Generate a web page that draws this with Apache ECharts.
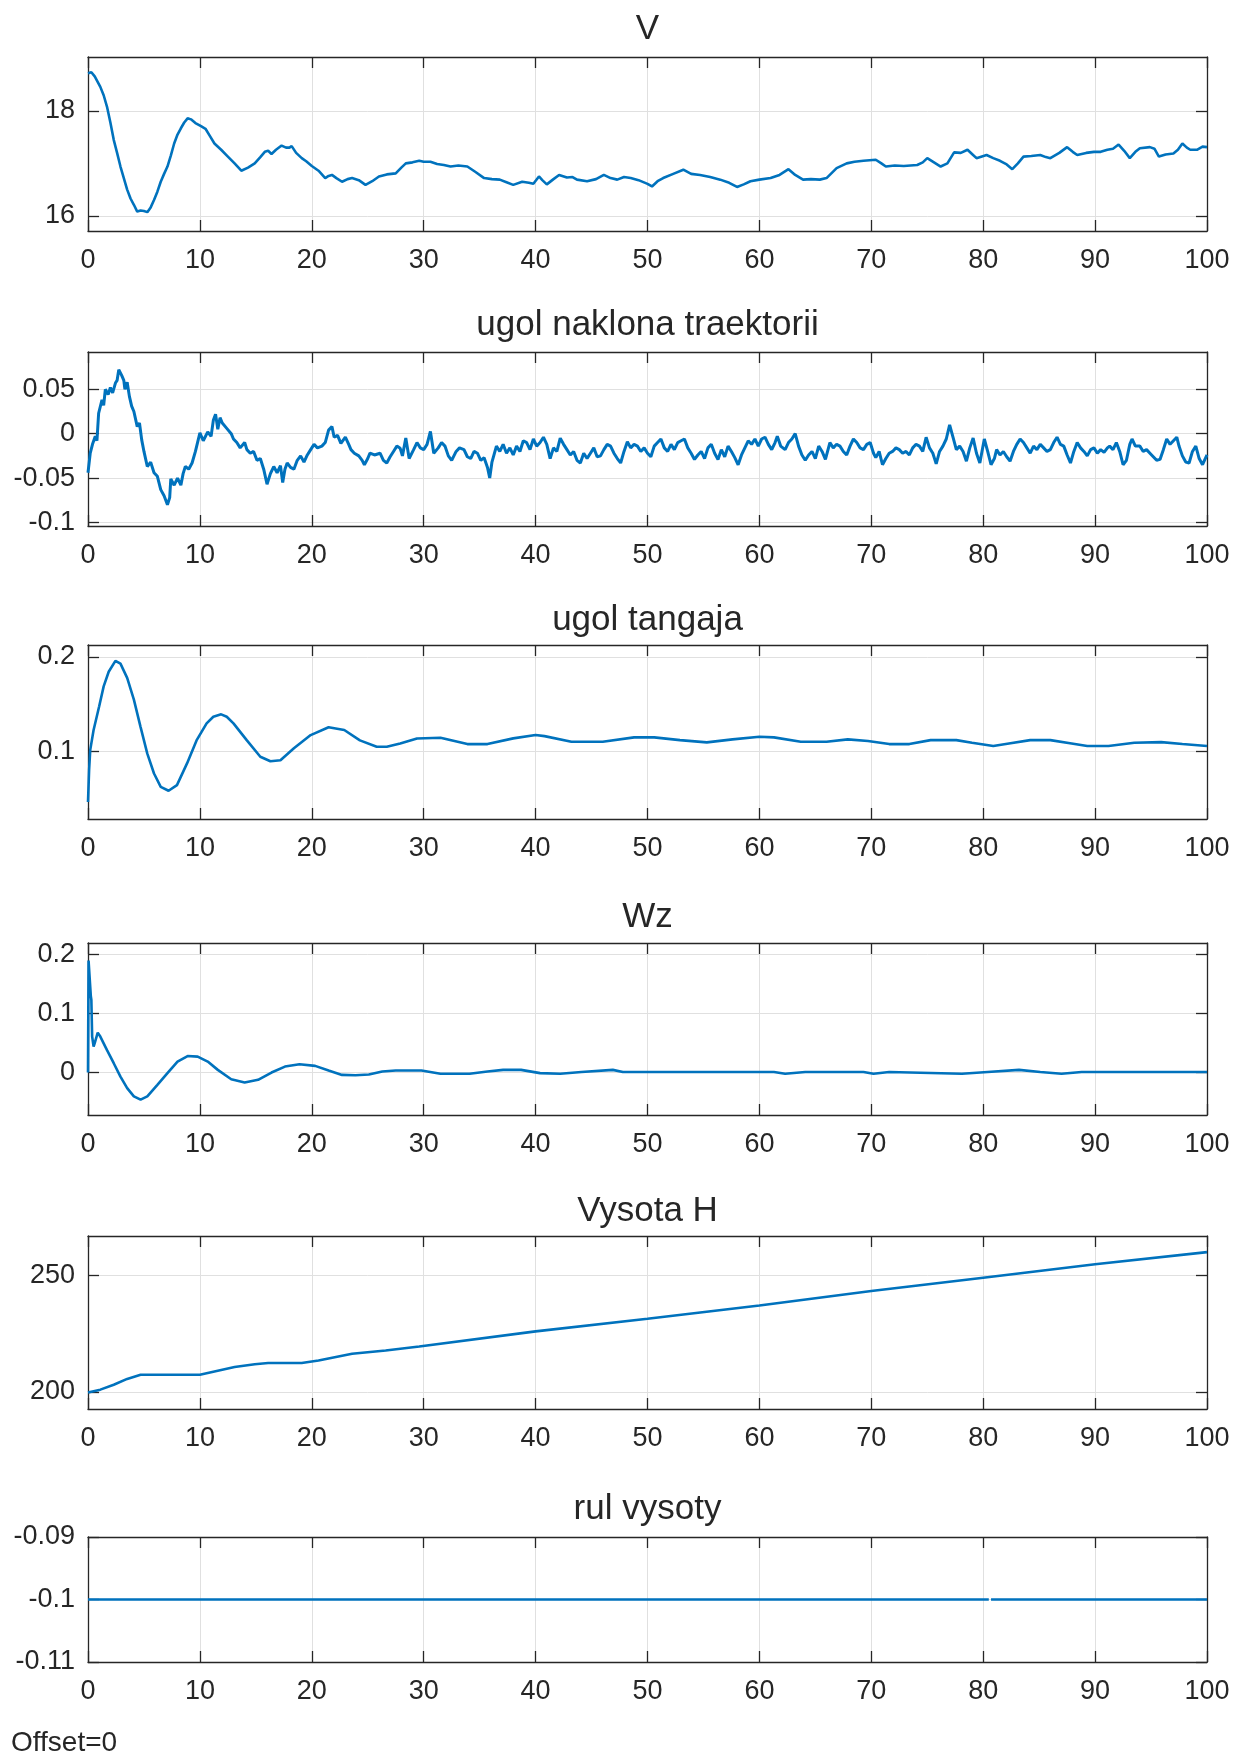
<!DOCTYPE html>
<html>
<head>
<meta charset="utf-8">
<title>Scope</title>
<script src="https://cdn.jsdelivr.net/npm/echarts@6/dist/echarts.min.js"></script>
<style>
  html, body { margin: 0; padding: 0; background: #fff; }
  #chart { width: 1238px; height: 1758px; }
</style>
</head>
<body>
<div id="chart"></div>
<script>
// ---- data: [time, value] ----
const vData = [
  [0,18.72],[0.3,18.74],[0.6,18.66],[1.1,18.46],[1.4,18.3],[1.7,18.08],[2.0,17.78],[2.3,17.45],[2.6,17.2],[2.9,16.94],
  [3.2,16.72],[3.5,16.5],[3.8,16.33],[4.1,16.21],[4.4,16.08],[4.7,16.1],[5.0,16.09],[5.3,16.07],[5.6,16.16],[5.9,16.3],
  [6.2,16.46],[6.5,16.65],[6.8,16.8],[7.1,16.94],[7.4,17.15],[7.7,17.38],[8.0,17.55],[8.3,17.67],[8.6,17.78],[8.9,17.86],
  [9.2,17.84],[9.6,17.77],[10.1,17.71],[10.5,17.66],[10.9,17.52],[11.3,17.38],[11.9,17.26],[12.5,17.13],[13.1,17.0],[13.7,16.86],
  [14.3,16.92],[14.9,17.0],[15.4,17.12],[15.8,17.22],[16.1,17.24],[16.4,17.18],[16.8,17.26],[17.3,17.34],[17.7,17.3],[18.0,17.3],
  [18.2,17.33],[18.6,17.2],[19.1,17.1],[19.5,17.04],[20.0,16.95],[20.6,16.86],[21.2,16.72],[21.5,16.76],[21.8,16.78],[22.2,16.72],
  [22.7,16.65],[23.2,16.7],[23.6,16.72],[24.2,16.68],[24.8,16.59],[25.4,16.66],[26.0,16.75],[26.7,16.79],[27.5,16.81],[28.0,16.92],
  [28.4,17.0],[29.0,17.02],[29.6,17.05],[30.0,17.03],[30.6,17.03],[31.2,16.99],[31.8,16.97],[32.4,16.94],[33.1,16.96],[33.9,16.94],
  [34.6,16.84],[35.4,16.72],[36.1,16.7],[36.8,16.69],[37.4,16.64],[38.0,16.59],[38.8,16.65],[39.4,16.63],[39.8,16.61],[40.3,16.75],
  [40.6,16.68],[41.0,16.6],[41.6,16.7],[42.1,16.78],[42.8,16.73],[43.3,16.74],[43.7,16.69],[44.6,16.66],[45.4,16.7],[46.1,16.78],
  [46.7,16.72],[47.3,16.69],[47.9,16.74],[48.5,16.72],[49.2,16.68],[50.0,16.61],[50.4,16.56],[50.9,16.66],[51.4,16.72],[52.3,16.8],
  [53.2,16.88],[53.9,16.8],[54.7,16.78],[55.6,16.74],[56.5,16.69],[57.3,16.63],[58.0,16.55],[58.6,16.6],[59.2,16.66],[60.0,16.69],
  [61.0,16.72],[61.8,16.78],[62.6,16.89],[63.2,16.78],[63.9,16.69],[64.6,16.7],[65.4,16.69],[66.0,16.72],[66.9,16.91],[67.8,17.0],
  [68.5,17.03],[69.3,17.05],[70.4,17.07],[70.9,17.0],[71.3,16.94],[72.1,16.96],[72.9,16.95],[74.1,16.97],[74.6,17.02],[75.0,17.1],
  [75.6,17.02],[76.2,16.94],[76.8,17.0],[77.4,17.21],[78.0,17.2],[78.6,17.26],[79.0,17.18],[79.4,17.1],[80.3,17.16],[80.9,17.1],
  [81.5,17.05],[82.1,16.98],[82.6,16.89],[83.1,17.0],[83.6,17.13],[84.3,17.14],[85.1,17.16],[85.6,17.12],[86.0,17.1],[86.8,17.2],
  [87.5,17.31],[88.0,17.22],[88.4,17.16],[89.2,17.2],[89.9,17.22],[90.5,17.22],[91.1,17.26],[91.6,17.28],[92.1,17.36],[92.6,17.24],
  [93.1,17.1],[93.6,17.22],[94.0,17.29],[94.9,17.31],[95.3,17.28],[95.7,17.13],[96.3,17.17],[97.0,17.19],[97.4,17.26],[97.8,17.38],
  [98.2,17.3],[98.5,17.26],[99.1,17.26],[99.6,17.32],[100,17.31]
];

const gammaData = [
  [0,-0.044],[0.2,-0.022],[0.4,-0.012],[0.65,-0.003],[0.8,-0.008],[0.95,0.023],[1.25,0.038],[1.4,0.032],[1.55,0.05],[1.8,0.044],
  [2.0,0.052],[2.2,0.046],[2.45,0.057],[2.6,0.06],[2.75,0.072],[2.9,0.074],[3.0,0.066],[3.2,0.06],[3.3,0.05],[3.5,0.058],
  [3.7,0.042],[3.9,0.031],[4.1,0.025],[4.4,0.008],[4.6,0.012],[4.8,-0.007],[5.0,-0.02],[5.3,-0.037],[5.6,-0.032],[5.9,-0.044],
  [6.2,-0.048],[6.5,-0.063],[6.8,-0.07],[7.1,-0.08],[7.3,-0.072],[7.4,-0.051],[7.7,-0.058],[8.0,-0.05],[8.3,-0.058],[8.5,-0.045],
  [8.7,-0.037],[9.0,-0.04],[9.3,-0.033],[9.6,-0.02],[10.0,0.001],[10.3,-0.008],[10.7,0.002],[11.0,-0.003],[11.2,0.015],[11.4,0.022],
  [11.6,0.005],[11.8,0.018],[12.0,0.012],[12.4,0.006],[12.8,0.0],[13.0,-0.006],[13.3,-0.01],[13.6,-0.016],[14.0,-0.01],[14.2,-0.018],
  [14.5,-0.022],[14.8,-0.02],[15.1,-0.03],[15.4,-0.028],[15.7,-0.04],[16.0,-0.057],[16.3,-0.045],[16.6,-0.037],[16.9,-0.044],[17.2,-0.036],
  [17.4,-0.055],[17.6,-0.04],[17.8,-0.033],[18.1,-0.038],[18.4,-0.04],[18.7,-0.03],[19.0,-0.025],[19.3,-0.032],[19.6,-0.024],[19.9,-0.018],
  [20.2,-0.012],[20.5,-0.016],[20.9,-0.014],[21.2,-0.01],[21.5,0.004],[21.8,0.008],[22.0,-0.004],[22.3,-0.002],[22.6,-0.011],[23.0,-0.004],
  [23.3,-0.012],[23.5,-0.018],[23.8,-0.022],[24.2,-0.025],[24.5,-0.03],[24.7,-0.035],[25.0,-0.028],[25.2,-0.022],[25.6,-0.024],[26.1,-0.022],
  [26.4,-0.03],[26.7,-0.033],[27.0,-0.026],[27.3,-0.02],[27.6,-0.014],[27.9,-0.0165],[28.1,-0.025],[28.4,-0.005],[28.7,-0.028],[29.1,-0.018],
  [29.4,-0.01],[29.7,-0.016],[30.0,-0.018],[30.3,-0.012],[30.6,0.0025],[30.9,-0.022],[31.3,-0.016],[31.6,-0.01],[31.9,-0.014],[32.2,-0.025],
  [32.5,-0.03],[32.9,-0.02],[33.2,-0.016],[33.6,-0.018],[33.9,-0.026],[34.2,-0.028],[34.5,-0.02],[34.8,-0.022],[35.1,-0.03],[35.4,-0.027],
  [35.7,-0.038],[35.9,-0.05],[36.1,-0.032],[36.5,-0.014],[36.8,-0.02],[37.1,-0.012],[37.4,-0.022],[37.7,-0.016],[38.0,-0.024],[38.3,-0.014],
  [38.6,-0.02],[38.9,-0.008],[39.2,-0.01],[39.5,-0.018],[39.8,-0.006],[40.1,-0.014],[40.4,-0.01],[40.7,-0.004],[41.0,-0.012],[41.3,-0.028],
  [41.6,-0.016],[41.9,-0.02],[42.2,-0.005],[42.5,-0.012],[42.8,-0.018],[43.1,-0.024],[43.4,-0.02],[43.7,-0.03],[44.0,-0.033],[44.3,-0.022],
  [44.6,-0.028],[44.9,-0.022],[45.2,-0.016],[45.5,-0.026],[45.8,-0.025],[46.1,-0.018],[46.4,-0.012],[46.7,-0.014],[47.0,-0.022],[47.3,-0.028],
  [47.6,-0.033],[47.9,-0.02],[48.2,-0.009],[48.5,-0.016],[48.8,-0.012],[49.1,-0.014],[49.4,-0.02],[49.7,-0.016],[50.0,-0.022],[50.3,-0.026],
  [50.6,-0.014],[50.9,-0.01],[51.2,-0.006],[51.5,-0.016],[51.8,-0.02],[52.1,-0.012],[52.4,-0.018],[52.7,-0.01],[53.0,-0.008],[53.3,-0.006],
  [53.6,-0.016],[53.9,-0.022],[54.2,-0.029],[54.5,-0.024],[54.8,-0.02],[55.1,-0.028],[55.4,-0.016],[55.7,-0.012],[56.0,-0.022],[56.3,-0.029],
  [56.6,-0.018],[56.9,-0.026],[57.2,-0.014],[57.5,-0.02],[57.8,-0.027],[58.1,-0.035],[58.4,-0.024],[58.7,-0.016],[59.0,-0.008],[59.3,-0.012],
  [59.6,-0.006],[59.9,-0.014],[60.2,-0.006],[60.5,-0.004],[60.8,-0.012],[61.1,-0.018],[61.4,-0.01],[61.6,-0.003],[61.9,-0.014],[62.3,-0.018],
  [62.6,-0.01],[62.9,-0.006],[63.2,0.0],[63.5,-0.014],[63.8,-0.024],[64.1,-0.03],[64.4,-0.024],[64.7,-0.02],[65.0,-0.028],[65.3,-0.014],
  [65.6,-0.02],[65.9,-0.029],[66.3,-0.01],[66.6,-0.016],[66.9,-0.012],[67.2,-0.014],[67.5,-0.02],[67.8,-0.024],[68.1,-0.014],[68.4,-0.006],
  [68.7,-0.01],[69.0,-0.016],[69.3,-0.018],[69.6,-0.012],[69.9,-0.01],[70.2,-0.022],[70.4,-0.027],[70.7,-0.02],[71.0,-0.035],[71.3,-0.028],
  [71.6,-0.022],[71.9,-0.02],[72.2,-0.016],[72.5,-0.018],[72.8,-0.022],[73.1,-0.02],[73.4,-0.024],[73.7,-0.016],[74.0,-0.012],[74.3,-0.014],
  [74.6,-0.02],[74.9,-0.004],[75.2,-0.016],[75.5,-0.022],[75.8,-0.034],[76.1,-0.02],[76.4,-0.014],[76.7,-0.006],[77.0,0.01],[77.3,-0.004],
  [77.6,-0.018],[77.9,-0.014],[78.2,-0.02],[78.5,-0.031],[78.8,-0.016],[79.1,-0.005],[79.4,-0.022],[79.7,-0.033],[80.1,-0.006],[80.4,-0.02],
  [80.7,-0.035],[81.0,-0.028],[81.2,-0.018],[81.5,-0.024],[81.8,-0.02],[82.1,-0.026],[82.4,-0.031],[82.7,-0.02],[83.0,-0.012],[83.3,-0.006],
  [83.6,-0.01],[83.9,-0.016],[84.2,-0.022],[84.5,-0.014],[84.8,-0.018],[85.1,-0.012],[85.4,-0.016],[85.7,-0.02],[86.0,-0.018],[86.3,-0.01],
  [86.6,-0.004],[86.9,-0.012],[87.2,-0.014],[87.5,-0.024],[87.8,-0.033],[88.1,-0.02],[88.4,-0.01],[88.7,-0.016],[89.0,-0.02],[89.3,-0.025],
  [89.6,-0.018],[89.9,-0.016],[90.2,-0.022],[90.5,-0.018],[90.8,-0.021],[91.1,-0.016],[91.3,-0.014],[91.6,-0.018],[91.9,-0.01],[92.2,-0.02],
  [92.5,-0.035],[92.8,-0.03],[93.1,-0.012],[93.3,-0.006],[93.6,-0.014],[94.0,-0.014],[94.3,-0.02],[94.6,-0.018],[94.9,-0.022],[95.2,-0.026],
  [95.5,-0.03],[95.8,-0.029],[96.1,-0.018],[96.4,-0.006],[96.7,-0.012],[97.0,-0.008],[97.3,-0.004],[97.5,-0.014],[97.8,-0.025],[98.1,-0.032],
  [98.4,-0.033],[98.7,-0.02],[99.0,-0.014],[99.3,-0.028],[99.6,-0.035],[100,-0.024]
];

const thetaData = [
  [0,0.047],[0.1,0.081],[0.2,0.102],[0.5,0.123],[1.0,0.148],[1.4,0.169],[1.85,0.1845],[2.45,0.196],[2.9,0.193],[3.5,0.178],
  [4.1,0.155],[4.7,0.126],[5.3,0.098],[5.9,0.077],[6.5,0.063],[7.2,0.0588],[7.95,0.0648],[8.85,0.0877],[9.7,0.112],[10.6,0.13],
  [11.2,0.137],[11.9,0.1395],[12.4,0.137],[13.0,0.13],[14.2,0.112],[15.4,0.0947],[16.3,0.09],[17.2,0.091],[18.4,0.1036],[19.9,0.1176],
  [21.5,0.1258],[22.9,0.123],[24.3,0.112],[25.8,0.1053],[26.7,0.1053],[27.9,0.1088],[29.4,0.114],[31.5,0.1148],[33.9,0.1081],[35.7,0.1081],
  [38.0,0.1141],[40.0,0.1176],[40.8,0.1165],[43.2,0.1106],[46.0,0.1106],[48.8,0.1152],[50.6,0.1152],[52.9,0.1123],[55.3,0.1099],[57.6,0.1131],
  [60.0,0.1158],[61.3,0.1152],[63.7,0.1106],[66.0,0.1106],[67.9,0.1131],[69.7,0.1113],[71.6,0.1081],[73.4,0.1081],[75.3,0.1123],[77.6,0.1123],
  [79.0,0.1095],[80.9,0.106],[82.3,0.1088],[84.2,0.1123],[86.0,0.1123],[87.9,0.1088],[89.3,0.106],[91.2,0.106],[93.5,0.1095],[95.9,0.1102],
  [97.8,0.1081],[100,0.106]
];

const wzData = [
  [0,0],[0.05,0.19],[0.15,0.19],[0.25,0.13],[0.3,0.123],[0.37,0.061],[0.5,0.044],[0.6,0.05],[0.7,0.051],[0.87,0.0676],
  [1.1,0.061],[1.7,0.038],[2.3,0.0158],[2.9,-0.0068],[3.5,-0.0265],[4.1,-0.0405],[4.7,-0.046],[5.3,-0.0405],[6.2,-0.0208],[7.1,-0.001],
  [8.0,0.0186],[8.9,0.028],[9.8,0.027],[10.7,0.0186],[11.6,0.0045],[12.8,-0.0113],[14.0,-0.0169],[15.2,-0.0124],[16.4,0],[17.6,0.0101],
  [18.9,0.014],[20.3,0.0113],[21.5,0.0034],[22.7,-0.004],[23.9,-0.0045],[25.1,-0.0034],[26.3,0.0017],[27.5,0.0034],[29.8,0.0034],[31.5,-0.002],
  [34.1,-0.002],[35.7,0.0017],[37.1,0.0045],[38.7,0.0045],[40.4,-0.001],[42.2,-0.002],[44.1,0.001],[46.9,0.0045],[47.8,0.001],[61.3,0.001],
  [62.3,-0.002],[64.1,0.001],[69.3,0.001],[70.2,-0.002],[71.6,0.001],[78.1,-0.002],[80.4,0.001],[83.2,0.0045],[85.1,0.001],[87.0,-0.002],
  [88.8,0.001],[100,0.001]
];

const heightData = [
  [0,199.8],[1.1,201],[2.3,203.1],[3.5,205.6],[4.7,207.4],[7.1,207.4],[10,207.4],[11.3,208.8],[13.1,210.7],[14.9,211.9],
  [16.1,212.4],[19.1,212.4],[20.6,213.5],[23.6,216.4],[26.6,217.8],[29.6,219.5],[40,226],[50,231.4],[60,237.1],[70,243.3],
  [80,249],[90,254.8],[100,260]
];

// elevator: constant, with a one-sample gap near t = 80.6
const elevatorData = [[0,-0.1],[80.5,-0.1],[80.6,'-'],[80.7,-0.1],[100,-0.1]];

const titles = ['V', 'ugol naklona traektorii', 'ugol tangaja', 'Wz', 'Vysota H', 'rul vysoty'];
const yTickValues = [[16, 18], [-0.1, -0.05, 0, 0.05], [0.1, 0.2], [0, 0.1, 0.2], [200, 250], [-0.11, -0.1, -0.09]];
const yLimits = [[15.71, 19.03], [-0.104, 0.092], [0.029, 0.2127], [-0.072, 0.2196], [192.7, 266.9], [-0.11, -0.09]];
const seriesData = [vData, gammaData, thetaData, wzData, heightData, elevatorData];

// panel boxes in px
const panels = [
  { top: 57, height: 174, titleY: 29 },
  { top: 352, height: 174, titleY: 325 },
  { top: 645, height: 174, titleY: 620 },
  { top: 943, height: 172, titleY: 917 },
  { top: 1236, height: 173, titleY: 1211 },
  { top: 1537, height: 125, titleY: 1509 }
];

const FONT = '"Liberation Sans", Arial, Helvetica, sans-serif';
const INK = '#262626';
const GRID = '#e0e0e0';
const LINE = '#0072BD';

const chart = echarts.init(document.getElementById('chart'), null, { renderer: 'canvas' });

const fmt = v => String(Math.round(v * 1000) / 1000);

const grid = [], xAxis = [], yAxis = [], series = [], graphic = [];

panels.forEach((p, i) => {
  grid.push({ left: 88, right: 31, top: p.top, height: p.height, containLabel: false, outerBoundsMode: 'none' });

  const boxLine = { show: true, onZero: false, lineStyle: { color: INK, width: 1.3 } };
  const tick = { show: true, inside: true, length: 11, lineStyle: { color: INK, width: 1.3 } };

  xAxis.push({
    type: 'value', gridIndex: i, position: 'bottom', min: 0, max: 100, interval: 10,
    axisLine: boxLine, axisTick: tick,
    axisLabel: { color: INK, fontSize: 27, fontFamily: FONT, margin: 16 },
    splitLine: { show: true, lineStyle: { color: GRID, width: 1 } }
  });
  xAxis.push({
    type: 'value', gridIndex: i, position: 'top', min: 0, max: 100, interval: 10,
    axisLine: boxLine, axisTick: tick, axisLabel: { show: false }, splitLine: { show: false }
  });

  const ticks = yTickValues[i];
  yAxis.push({
    type: 'value', gridIndex: i, position: 'left', min: yLimits[i][0], max: yLimits[i][1],
    axisLine: boxLine,
    axisTick: Object.assign({ customValues: ticks }, tick),
    axisLabel: { color: INK, fontSize: 27, fontFamily: FONT, margin: 13, customValues: ticks, formatter: fmt },
    splitLine: { show: true, lineStyle: { color: GRID, width: 1 } }
  });
  yAxis.push({
    type: 'value', gridIndex: i, position: 'right', min: yLimits[i][0], max: yLimits[i][1],
    axisLine: boxLine,
    axisTick: Object.assign({ customValues: ticks }, tick),
    axisLabel: { show: false }, splitLine: { show: false }
  });

  series.push({
    type: 'line', xAxisIndex: 2 * i, yAxisIndex: 2 * i,
    data: seriesData[i], showSymbol: false, symbol: 'none',
    lineStyle: { color: LINE, width: i === 1 ? 3 : 2.6 },
    clip: true, connectNulls: false
  });

  graphic.push({
    type: 'text', x: 647.5, y: p.titleY,
    style: {
      text: titles[i], font: '35px ' + FONT, fill: INK,
      align: 'center', verticalAlign: 'middle', textAlign: 'center', textVerticalAlign: 'middle'
    }
  });
});

graphic.push({
  type: 'text', x: 11, y: 1743,
  style: { text: 'Offset=0', font: '28px ' + FONT, fill: INK, align: 'left', verticalAlign: 'middle', textAlign: 'left', textVerticalAlign: 'middle' }
});

chart.setOption({
  animation: false,
  backgroundColor: '#ffffff',
  grid, xAxis, yAxis, series, graphic
});
</script>
</body>
</html>
